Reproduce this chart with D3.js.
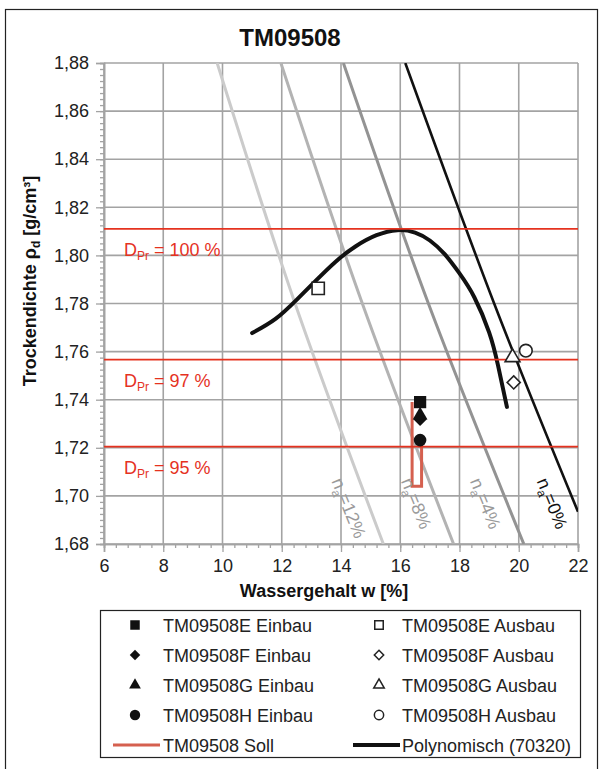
<!DOCTYPE html>
<html>
<head>
<meta charset="utf-8">
<script src="https://cdn.jsdelivr.net/npm/d3@7"></script>
<style>
  html, body { margin: 0; padding: 0; background: #fff; }
  svg { display: block; font-family: "Liberation Sans", Arial, sans-serif; }
</style>
</head>
<body>
<svg id="chart" width="603" height="769"></svg>
<script>
// ---- data ----
const chartTitle = "TM09508";

// axis ticks
const xTicks = [6, 8, 10, 12, 14, 16, 18, 20, 22];
const yTicks = [1.68, 1.70, 1.72, 1.74, 1.76, 1.78, 1.80, 1.82, 1.84, 1.86, 1.88];

// Proctor density and compaction levels
const proctorDensity = 1.811;
const proctorLevels = [100, 97, 95];

// fitted compaction curve (Polynomisch)
const curveW   = [11.0, 11.8, 12.5, 13.1, 13.8, 14.5, 15.2, 15.9, 16.5, 17.0, 17.5, 18.0, 18.5, 19.0, 19.3, 19.6];
const curveRho = [1.7677, 1.7737, 1.7815, 1.7889, 1.7972, 1.8038, 1.8084, 1.8105, 1.8095, 1.8062, 1.8005, 1.7925, 1.7826, 1.7680, 1.7543, 1.7370];

// air-void lines n_a
const naLevels = [12, 8, 4, 0];
const naRho = [[1.88, 1.78, 1.68], [1.88, 1.78, 1.68], [1.88, 1.78, 1.68], [1.88, 1.78, 1.6934]];
const naW   = [[9.82, 12.45, 15.43], [11.97, 14.72, 17.80], [14.08, 16.95, 20.17], [16.17, 19.17, 22.0]];

// samples
const sampleNames = ["TM09508E", "TM09508F", "TM09508G", "TM09508H"];
const einbauW   = [16.67, 16.67, 16.67, 16.67];
const einbauRho = [1.739, 1.7318, 1.7335, 1.7232];
const ausbauW   = [13.23, 19.83, 19.79, 20.24];
const ausbauRho = [1.7863, 1.7472, 1.7576, 1.7604];

// target (Soll) outline
const sollW   = [16.40, 16.40, 16.72, 16.72];
const sollRho = [1.739, 1.704, 1.704, 1.723];

// ---- layout ----
const svg = d3.select("#chart");
const plot = { left: 104, right: 578, top: 63, bottom: 544 };
const x = d3.scaleLinear().domain([6, 22]).range([plot.left, plot.right]);
const y = d3.scaleLinear().domain([1.68, 1.88]).range([plot.bottom, plot.top]);

const deLocale = d3.formatLocale({ decimal: ",", thousands: ".", grouping: [3], currency: ["", " €"] });
const fmtY = deLocale.format(".2f");

const fs = 18;
const gridColor = "#a3a3a3";
const redLine = "#e5321f";
const sollColor = "#d5604f";
const naColors = ["#cbcbcb", "#b3b3b3", "#939393", "#111111"];
const naWidths = [3, 3, 3, 2.6];
const shapes = [d3.symbolSquare, d3.symbolDiamond2, d3.symbolTriangle, d3.symbolCircle];

// outer frame
svg.append("rect").attr("x", 5.5).attr("y", 9.5).attr("width", 592).attr("height", 800)
  .attr("fill", "none").attr("stroke", "#222").attr("stroke-width", 1.2);

// title
svg.append("text").attr("x", 290).attr("y", 46).attr("text-anchor", "middle")
  .attr("font-size", 24).attr("font-weight", "bold").attr("fill", "#111").text(chartTitle);

// grid
const grid = svg.append("g");
grid.selectAll("line.gx").data(xTicks).join("line")
  .attr("x1", d => x(d)).attr("x2", d => x(d)).attr("y1", plot.top).attr("y2", plot.bottom)
  .attr("stroke", gridColor).attr("stroke-width", 1.6);
grid.selectAll("line.gy").data(yTicks).join("line")
  .attr("x1", plot.left).attr("x2", plot.right).attr("y1", d => y(d)).attr("y2", d => y(d))
  .attr("stroke", gridColor).attr("stroke-width", 1.6);

// axes with minor ticks
const yMinor = d3.range(0, 81).map(i => 1.68 + i * 0.0025);
const xMinor = d3.range(0, 41).map(i => 6 + i * 0.4);

const yAxisMinor = svg.append("g").attr("transform", `translate(${plot.left},0)`)
  .call(d3.axisLeft(y).tickValues(yMinor).tickSize(4).tickFormat(""));
const yAxis = svg.append("g").attr("transform", `translate(${plot.left},0)`)
  .call(d3.axisLeft(y).tickValues(yTicks).tickSize(8).tickPadding(7).tickFormat(fmtY));
const xAxisMinor = svg.append("g").attr("transform", `translate(0,${plot.bottom})`)
  .call(d3.axisBottom(x).tickValues(xMinor).tickSize(4).tickFormat(""));
const xAxis = svg.append("g").attr("transform", `translate(0,${plot.bottom})`)
  .call(d3.axisBottom(x).tickValues(xTicks).tickSize(8).tickPadding(7));

[yAxisMinor, yAxis, xAxisMinor, xAxis].forEach(g => {
  g.select(".domain").attr("stroke", gridColor).attr("stroke-width", 1.6);
  g.selectAll(".tick line").attr("stroke", gridColor).attr("stroke-width", 1.3);
  g.selectAll("text").attr("font-size", fs).attr("fill", "#222")
    .attr("font-family", "'Liberation Sans', Arial, sans-serif");
});

// axis titles
svg.append("text").attr("x", 324).attr("y", 597).attr("text-anchor", "middle")
  .attr("font-size", fs).attr("font-weight", "bold").attr("fill", "#111")
  .text("Wassergehalt w [%]");
const yTitle = svg.append("text").attr("transform", "translate(36,281) rotate(-90)")
  .attr("text-anchor", "middle").attr("font-size", fs).attr("font-weight", "bold").attr("fill", "#111");
yTitle.append("tspan").text("Trockendichte ρ");
yTitle.append("tspan").attr("font-size", 12).attr("dy", 4).text("d");
yTitle.append("tspan").attr("dy", -4).text(" [g/cm³]");

// clip for plot area
svg.append("clipPath").attr("id", "plotClip").append("rect")
  .attr("x", plot.left).attr("y", plot.top)
  .attr("width", plot.right - plot.left).attr("height", plot.bottom - plot.top);
const area = svg.append("g").attr("clip-path", "url(#plotClip)");

// air-void lines
const naLine = d3.line().x(d => x(d[0])).y(d => y(d[1])).curve(d3.curveNatural);
const naPts = naLevels.map((_, i) => naW[i].map((w, j) => [w, naRho[i][j]]));
area.selectAll("path.na").data(naPts).join("path")
  .attr("d", naLine).attr("fill", "none")
  .attr("stroke", (d, i) => naColors[i]).attr("stroke-width", (d, i) => naWidths[i]);

// air-void labels, placed just left of their line
const labelY = 481;
naLevels.forEach((lvl, i) => {
  const pts = naPts[i];
  // pixel x of the line at labelY (linear between the two lower points)
  const p1 = [x(pts[1][0]), y(pts[1][1])], p2 = [x(pts[2][0]), y(pts[2][1])];
  const lx = p1[0] + (labelY - p1[1]) * (p2[0] - p1[0]) / (p2[1] - p1[1]);
  const t = svg.append("text")
    .attr("transform", `translate(${lx - 29},${labelY}) rotate(68)`)
    .attr("font-size", fs).attr("fill", i === 3 ? "#111" : "#9a9a9a");
  t.append("tspan").text("n");
  t.append("tspan").attr("font-size", 12).attr("dy", 4).text("a");
  t.append("tspan").attr("dy", -4).text("=" + lvl + "%");
});

// Proctor levels
proctorLevels.forEach(p => {
  const r = proctorDensity * p / 100;
  svg.append("line").attr("x1", plot.left).attr("x2", plot.right)
    .attr("y1", y(r)).attr("y2", y(r)).attr("stroke", redLine).attr("stroke-width", 1.8);
  const t = svg.append("text").attr("x", 124).attr("y", y(r) + 27)
    .attr("font-size", fs).attr("fill", redLine);
  t.append("tspan").text("D");
  t.append("tspan").attr("font-size", 12).attr("dy", 4).text("Pr");
  t.append("tspan").attr("dy", -4).text(" = " + p + " %");
});

// compaction curve
const curveLine = d3.line().x(d => x(d[0])).y(d => y(d[1])).curve(d3.curveNatural);
area.append("path").datum(curveW.map((w, i) => [w, curveRho[i]]))
  .attr("d", curveLine).attr("fill", "none").attr("stroke", "#111")
  .attr("stroke-width", 4).attr("stroke-linecap", "round");

// target outline
area.append("path").datum(sollW.map((w, i) => [w, sollRho[i]]))
  .attr("d", d3.line().x(d => x(d[0])).y(d => y(d[1])))
  .attr("fill", "none").attr("stroke", sollColor).attr("stroke-width", 3);

// markers
const plotSizes = [150, 110, 95, 125];
sampleNames.forEach((n, i) => {
  svg.append("path").attr("d", d3.symbol(shapes[i], plotSizes[i])())
    .attr("transform", `translate(${x(einbauW[i])},${y(einbauRho[i])})`)
    .attr("fill", "#111");
});
sampleNames.forEach((n, i) => {
  svg.append("path").attr("d", d3.symbol(shapes[i], plotSizes[i])())
    .attr("transform", `translate(${x(ausbauW[i])},${y(ausbauRho[i])})`)
    .attr("fill", "#fff").attr("stroke", "#222").attr("stroke-width", 1.6);
});

// legend
const lg = svg.append("g");
lg.append("rect").attr("x", 100.5).attr("y", 610.5).attr("width", 480).attr("height", 147)
  .attr("fill", "#fff").attr("stroke", "#222").attr("stroke-width", 1.2);
const rowY = i => 625 + i * 30;
const legSizes = [90, 70, 60, 85];
sampleNames.forEach((n, i) => {
  lg.append("path").attr("d", d3.symbol(shapes[i], legSizes[i])())
    .attr("transform", `translate(135,${rowY(i)})`).attr("fill", "#111");
  lg.append("text").attr("x", 163).attr("y", rowY(i) + 6.5).attr("font-size", fs).attr("fill", "#222")
    .text(n + " Einbau");
  lg.append("path").attr("d", d3.symbol(shapes[i], legSizes[i] * 0.8)())
    .attr("transform", `translate(379,${rowY(i)})`).attr("fill", "#fff")
    .attr("stroke", "#222").attr("stroke-width", 1.5);
  lg.append("text").attr("x", 402).attr("y", rowY(i) + 6.5).attr("font-size", fs).attr("fill", "#222")
    .text(n + " Ausbau");
});
lg.append("line").attr("x1", 113).attr("x2", 160).attr("y1", rowY(4)).attr("y2", rowY(4))
  .attr("stroke", sollColor).attr("stroke-width", 3);
lg.append("text").attr("x", 163).attr("y", rowY(4) + 6.5).attr("font-size", fs).attr("fill", "#222")
  .text("TM09508 Soll");
lg.append("line").attr("x1", 353).attr("x2", 400).attr("y1", rowY(4)).attr("y2", rowY(4))
  .attr("stroke", "#111").attr("stroke-width", 4);
lg.append("text").attr("x", 402).attr("y", rowY(4) + 6.5).attr("font-size", fs).attr("fill", "#222")
  .text("Polynomisch (70320)");
</script>
</body>
</html>
